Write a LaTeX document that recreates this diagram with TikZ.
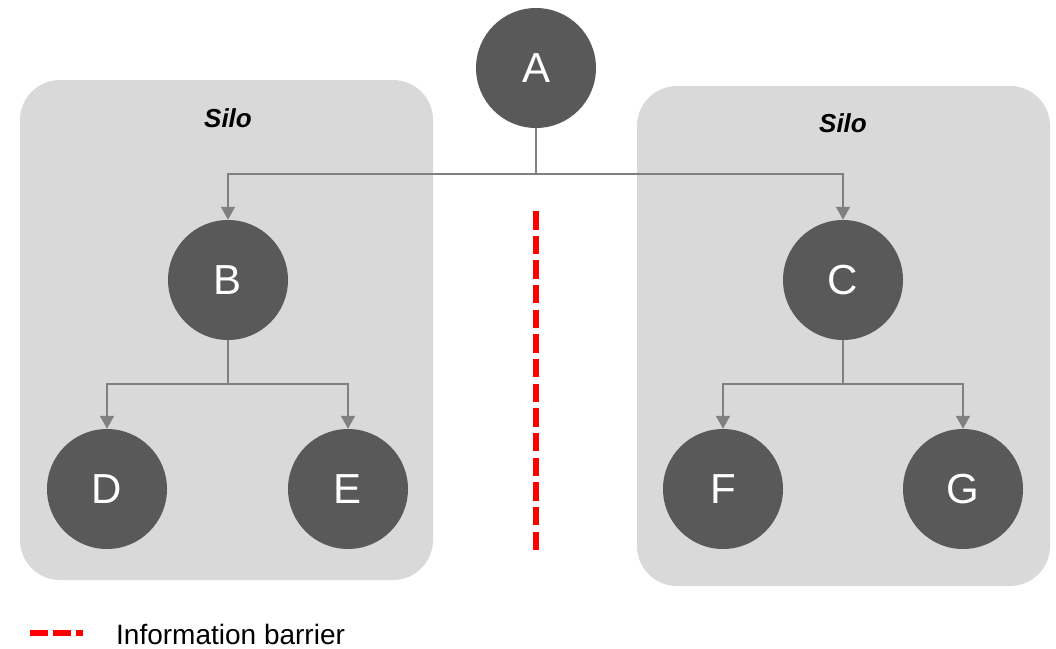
\documentclass[tikz,border=0pt]{standalone}
\usepackage{fontspec}
\setmainfont{Liberation Sans}
\usetikzlibrary{arrows.meta}
\definecolor{silofill}{HTML}{D9D9D9}
\definecolor{nodefill}{HTML}{595959}
\definecolor{linegray}{HTML}{808080}
\definecolor{barrier}{HTML}{FF0000}
\tikzset{
  silobox/.style={fill=silofill, draw=none, rounded corners=40pt},
  silolabel/.style={anchor=base, inner sep=0pt, font=\fontsize{26}{30}\selectfont\bfseries\itshape},
  entity/.style={circle, fill=nodefill, draw=none, minimum size=120pt, inner sep=0pt,
    text=white, font=\fontsize{42}{48}\selectfont},
  conn/.style={draw=linegray, line width=1.5pt},
  arr/.style={conn, -{Triangle[width=14pt,length=13pt]}},
  barrierline/.style={draw=barrier, line width=6pt, dash pattern=on 18.5pt off 6.16pt},
}
\begin{document}
\begin{tikzpicture}[x=1pt,y=-1pt]
\useasboundingbox (0,0) rectangle (1056,648);
% silos
\path[silobox] (20,80) rectangle (433,580);
\path[silobox] (637,86) rectangle (1050,586);
\node[silolabel] (silo1) at (228,127) {Silo};
\node[silolabel] (silo2) at (843,132) {Silo};
% nodes
\node[entity] (A) at (536,68) {A};
\node[entity] (B) at (228,280) {B};
\node[entity] (C) at (843,280) {C};
\node[entity] (D) at (107,489) {D};
\node[entity] (E) at (348,489) {E};
\node[entity] (F) at (723,489) {F};
\node[entity] (G) at (963,489) {G};
% junctions
\coordinate (jA) at (536,174);
\coordinate (jB) at (228,384);
\coordinate (jC) at (843,384);
% connectors
\draw[conn] (A.south) -- (jA);
\draw[arr] (jA) -| (B.north);
\draw[arr] (jA) -| (C.north);
\draw[conn] (B.south) -- (jB);
\draw[arr] (jB) -| (D.north);
\draw[arr] (jB) -| (E.north);
\draw[conn] (C.south) -- (jC);
\draw[arr] (jC) -| (F.north);
\draw[arr] (jC) -| (G.north);
% information barrier
\coordinate (bTop) at (536,211);
\coordinate (bBot) at (536,550);
\draw[barrierline] (bTop) -- (bBot);
% legend
\coordinate (lgS) at (30,633);
\coordinate (lgE) at (83,633);
\draw[barrierline, dash pattern=on 18pt off 5pt] (lgS) -- (lgE);
\node[anchor=base west, inner sep=0pt, font=\fontsize{28}{32}\selectfont] (legend) at (116,644) {Information barrier};
\end{tikzpicture}
\end{document}
